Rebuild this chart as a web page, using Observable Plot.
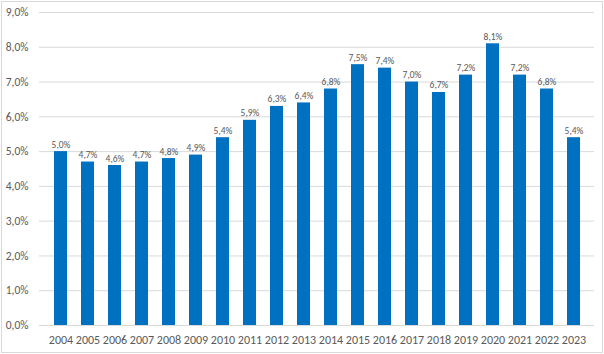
<!DOCTYPE html>
<html>
<head>
<meta charset="utf-8">
<script src="https://cdn.jsdelivr.net/npm/d3@7"></script>
<script src="https://cdn.jsdelivr.net/npm/@observablehq/plot@0.6"></script>
<style>
  body { margin: 0; background: #fff; }
  svg { display: block; outline: 1px solid #d9d9d9; outline-offset: -2px; }
</style>
</head>
<body>
<div id="chart"></div>
<script>
const years = ["2004","2005","2006","2007","2008","2009","2010","2011","2012","2013","2014","2015","2016","2017","2018","2019","2020","2021","2022","2023"];
const values = [5.0,4.7,4.6,4.7,4.8,4.9,5.4,5.9,6.3,6.4,6.8,7.5,7.4,7.0,6.7,7.2,8.1,7.2,6.8,5.4];
const yTicks = [0,1,2,3,4,5,6,7,8,9];

const data = years.map((y, i) => ({year: y, value: values[i]}));
const fmt = v => d3.format(".1f")(v).replace(".", ",") + "%";

const chart = Plot.plot({
  width: 604,
  height: 354,
  marginLeft: 39,
  marginRight: 10,
  marginTop: 12,
  marginBottom: 29,
  style: {fontFamily: "Calibri, Carlito, Lato, 'Liberation Sans', Arial, sans-serif", fontSize: "11px", color: "#595959", background: "#fff"},
  x: {domain: years, paddingInner: 0.52, paddingOuter: 0.26, label: null},
  y: {domain: [0, 9], label: null},
  marks: [
    Plot.gridY(yTicks, {stroke: "#d9d9d9", strokeOpacity: 1, strokeWidth: 1}),
    Plot.barY(data, {x: "year", y: "value", fill: "#0070C0"}),
    Plot.text(data, {x: "year", y: "value", text: d => fmt(d.value), lineAnchor: "bottom", dy: -4, fontSize: 9.5, fill: "#595959"}),
    Plot.axisX({tickSize: 0, tickPadding: 10, fontSize: 12, fill: "#595959"}),
    Plot.axisY({ticks: yTicks, tickFormat: fmt, tickSize: 0, tickPadding: 11, fontSize: 11.5, fill: "#595959"})
  ]
});
document.getElementById("chart").appendChild(chart);
</script>
</body>
</html>
